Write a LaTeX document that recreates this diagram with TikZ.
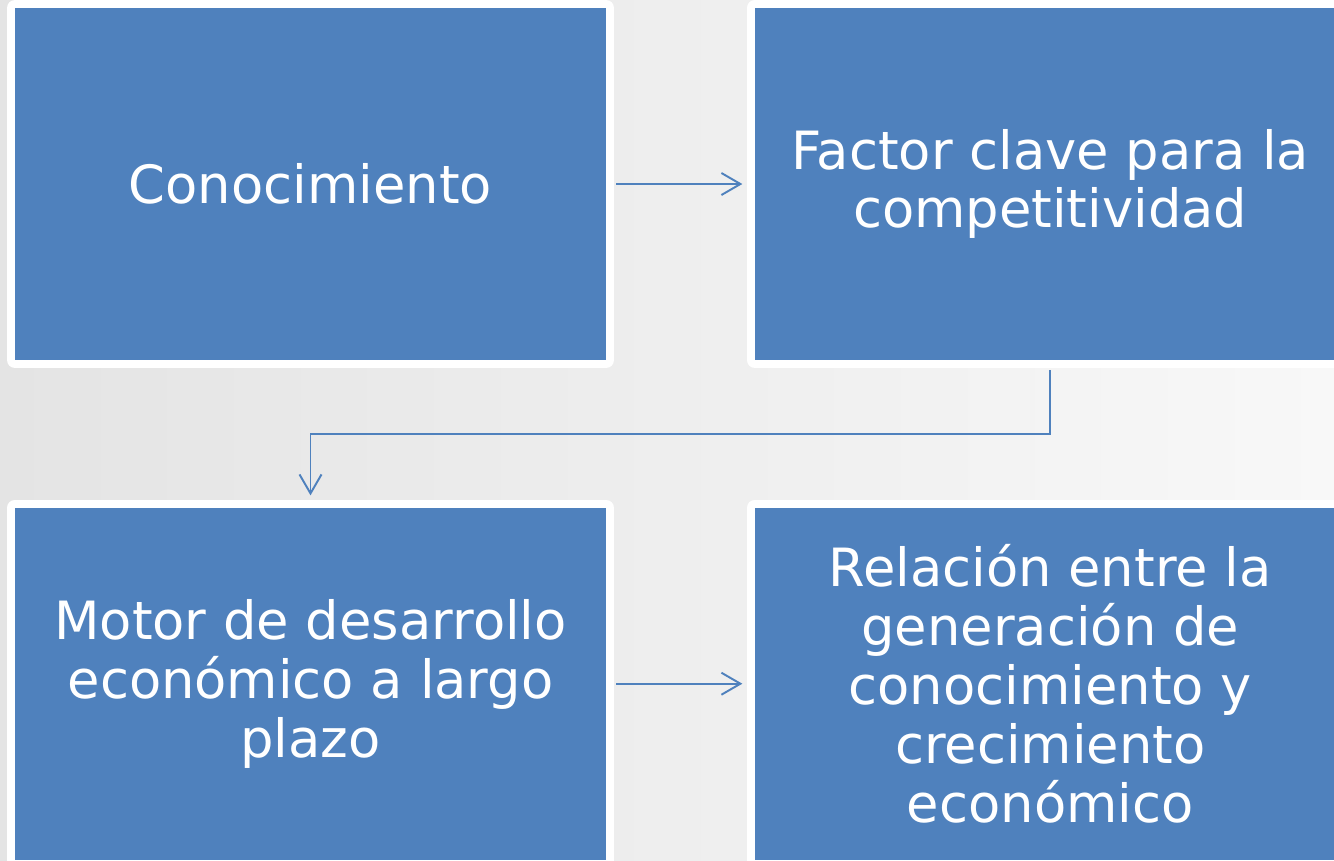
\documentclass[tikz,border=0pt]{standalone}
\usepackage{fontspec}
\setmainfont{DejaVu Sans}
\usetikzlibrary{arrows.meta,positioning}
\definecolor{boxblue}{RGB}{79,129,189}
\definecolor{bgleft}{RGB}{228,228,228}
\definecolor{bgright}{RGB}{248,248,248}

\begin{document}
\begin{tikzpicture}[node distance=2.94cm and 2.96cm, font=\fontsize{30}{33.5}\selectfont,
  box/.style = {fill=boxblue, text=white, align=center, minimum width=11.82cm, minimum height=7.04cm, inner sep=0pt, preaction={draw=white, line width=0.32cm, line join=round}},
  link/.style = {draw=boxblue, line width=1.1pt, -{Straight Barb[length=0.38cm, width=0.44cm, line width=1.1pt]}, shorten <=0.2cm, shorten >=0.24cm}]
\useasboundingbox (0,0) rectangle (26.68,-17.2);
\fill[left color=bgleft, right color=bgright] (0,0) rectangle (26.68,-17.2);

\node[box] (knowledge) at (6.21,-3.68) {Conocimiento};
\node[box] (factor) [right=of knowledge] {Factor clave para la\\competitividad};
\node[box] (motor) [below=of knowledge] {Motor de desarrollo\\económico a largo\\plazo};
\node[box] (relation) [right=of motor] {Relación entre la\\generación de\\conocimiento y\\crecimiento\\económico};

\draw[link] (knowledge) -- (factor);
\draw[link] (factor.south) -- ++(0,-1.47) -| (motor.north);
\draw[link] (motor) -- (relation);
\end{tikzpicture}
\end{document}
